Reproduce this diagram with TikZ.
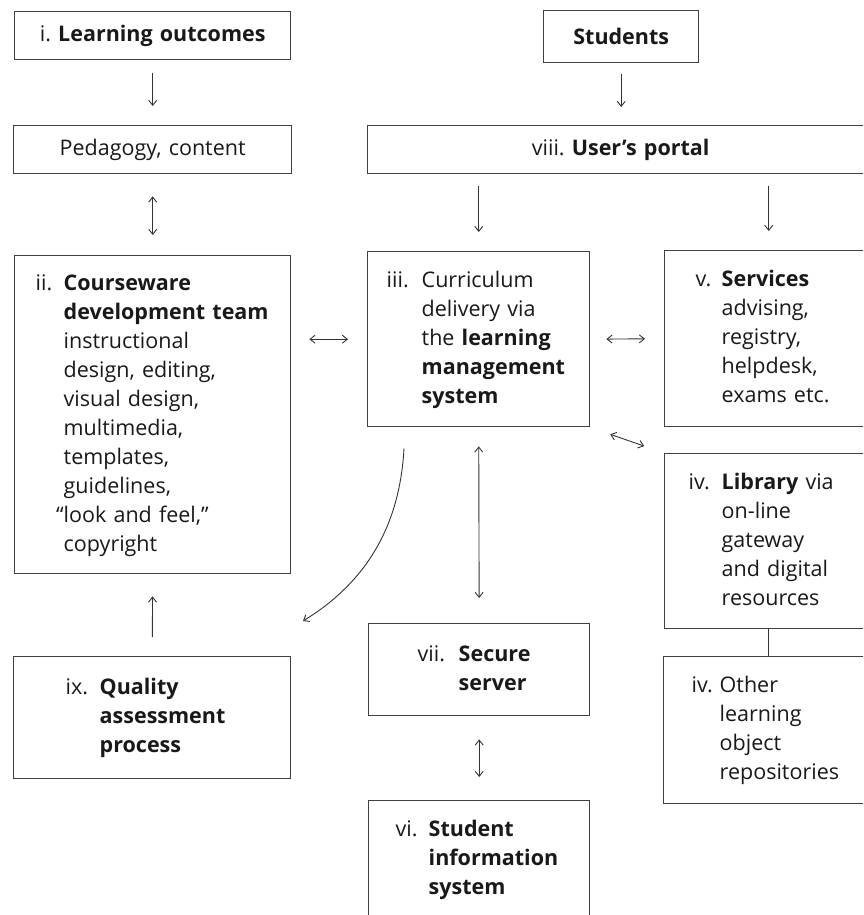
\documentclass[tikz,border=0pt]{standalone}
\usepackage{fontspec}
\setmainfont{Open Sans}
\usetikzlibrary{arrows.meta}
\frenchspacing
\tikzset{
  box/.style={draw=black!75, line width=1.4pt, anchor=north west, inner ysep=0pt, align=left,
    font=\fontsize{21.5}{29}\selectfont, text=black!90},
  link/.style={line width=0.9pt, draw=black!80},
}
\newcommand{\hanglist}[2][28pt]{\begin{tabular}{@{}p{#1}@{}l@{}}#2\end{tabular}}

\begin{document}
\begin{tikzpicture}[x=1pt,y=-1pt,>={Straight Barb[length=5pt,width=8pt]}]
  \useasboundingbox (0,0) rectangle (863,915);
  \clip (0,0) rectangle (863,915);
  \node[box, text width=276pt, inner xsep=0pt, minimum height=48pt, align=center] (lo) at (14,11) {i. \textbf{Learning outcomes}};
  \node[box, text width=278pt, inner xsep=0pt, minimum height=48pt, align=center] (ped) at (13,125) {Pedagogy, content};
  \node[box, text width=155pt, inner xsep=0pt, minimum height=52pt, align=center] (stu) at (543,10) {\textbf{Students}};
  \node[box, text width=506pt, inner xsep=0pt, minimum height=48pt, align=center] (portal) at (367,125) {viii. \textbf{User’s portal}};
  \node[box, text width=234pt, inner xsep=21pt, minimum height=318pt] (cw) at (14,255) {\hanglist[28pt]{
    ii. & \textbf{Courseware}\\
     & \textbf{development team}\\
     & instructional\\
     & design, editing,\\
     & visual design,\\
     & multimedia,\\
     & templates,\\
     & guidelines,\\
     & \llap{“}look and feel,”\\
     & copyright}};
  \node[box, text width=184pt, inner xsep=19pt, minimum height=175pt] (lms) at (367,251) {\hanglist[35pt]{
    iii. & Curriculum\\
     & delivery via\\
     & the \textbf{learning}\\
     & \textbf{management}\\
     & \textbf{system}}};
  \node[box, text width=146pt, inner xsep=31pt, minimum height=176pt] (svc) at (664,250) {\hanglist[26pt]{
    v. & \textbf{Services}\\
     & advising,\\
     & registry,\\
     & helpdesk,\\
     & exams etc.}};
  \node[box, text width=160pt, inner xsep=24pt, minimum height=175pt] (lib) at (664,453) {\hanglist[33pt]{
    iv. & \textbf{Library} via\\
     & on-line\\
     & gateway\\
     & and digital\\
     & resources}};
  \node[box, text width=153pt, inner xsep=28pt, minimum height=147pt] (oth) at (663,656) {\hanglist[28pt]{
    iv. & Other\\
     & learning\\
     & object\\
     & repositories}};
  \node[box, text width=173pt, inner xsep=52pt, minimum height=122pt] (qa) at (13,656) {\hanglist[34pt]{
    ix. & \textbf{Quality}\\
     & \textbf{assessment}\\
     & \textbf{process}}};
  \node[box, text width=123pt, inner xsep=49pt, minimum height=92pt] (sec) at (368,623) {\hanglist[41pt]{
    vii. & \textbf{Secure}\\
     & \textbf{server}}};
  \node[box, text width=167pt, inner xsep=27pt, minimum height=118pt] (sis) at (368,800) {\hanglist[33pt]{
    vi. & \textbf{Student}\\
     & \textbf{information}\\
     & \textbf{system}}};
  \coordinate (crv) at (303,621);
  \draw[link,->,shorten <=13pt,shorten >=19pt] (lo.south) -- (ped.north);
  \draw[link,<->,shorten <=22pt,shorten >=20pt] (ped.south) -- (cw.north);
  \draw[link,->,shorten <=11pt,shorten >=18pt] (stu.south) -- (stu.south |- portal.north);
  \draw[link,->,shorten <=12pt,shorten >=19pt] (lms.north |- portal.south) -- (lms.north);
  \draw[link,->,shorten <=12pt,shorten >=19pt] (svc.north |- portal.south) -- (svc.north);
  \draw[link,<->,shorten <=18pt,shorten >=19pt] (lms.west -| cw.east) -- (lms.west);
  \draw[link,<->,shorten <=16pt,shorten >=19pt] (lms.east) -- (svc.west);
  \draw[link,<->,shorten <=21pt,shorten >=21pt] (lms.south east) -- (lib.north west);
  \draw[link,<->,shorten <=19pt,shorten >=25pt] (lms.south) -- (sec.north);
  \draw[link,<->,shorten <=23pt,shorten >=23pt] (sec.south) -- (sis.north);
  \draw[link,->,shorten <=19pt,shorten >=22pt] (qa.north) -- (cw.south);
  \draw[link] (lib.south) -- (lib.south |- oth.north);
  \draw[link,->] ([xshift=37pt,yshift=-21pt]lms.south west) .. controls +(-4,73) and +(67,-41) .. (crv);
\end{tikzpicture}
\end{document}
